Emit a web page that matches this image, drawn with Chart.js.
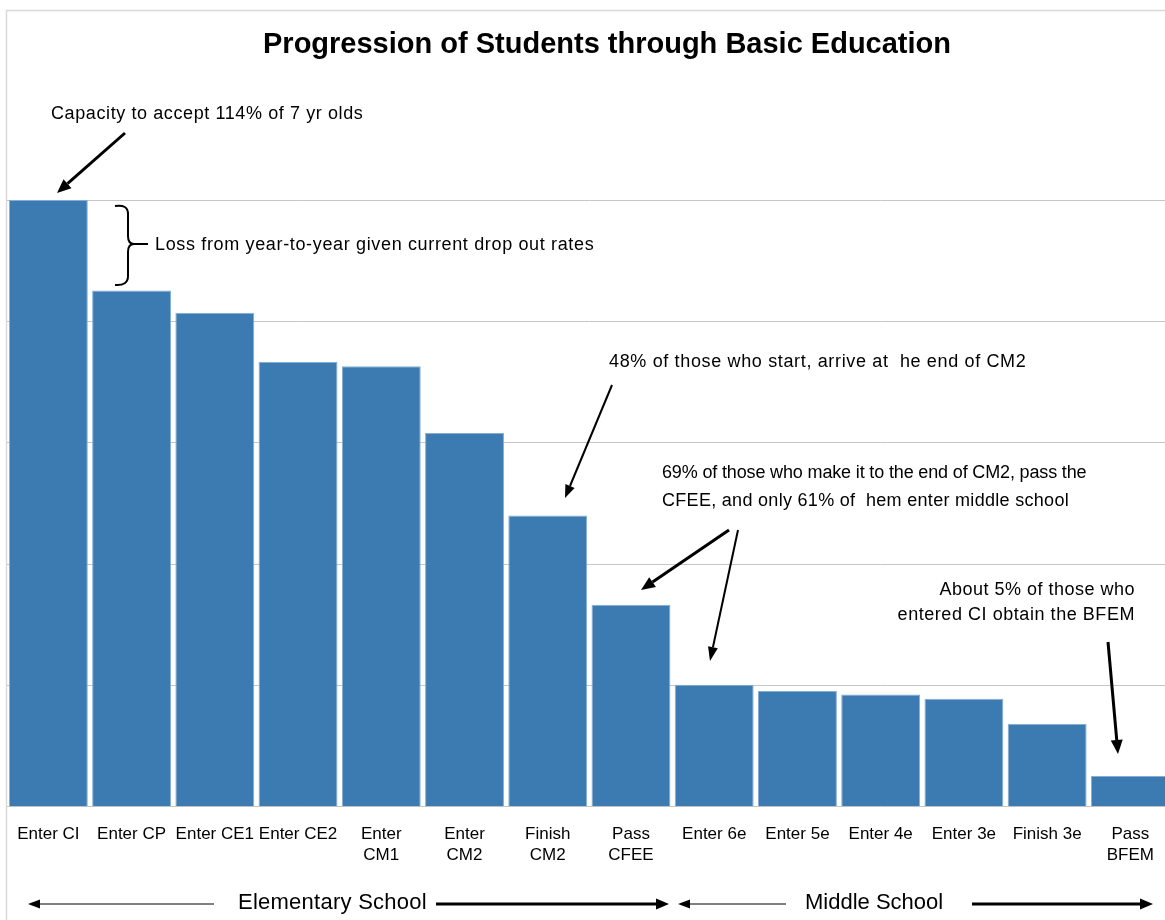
<!DOCTYPE html>
<html>
<head>
<meta charset="utf-8">
<script src="https://cdn.jsdelivr.net/npm/chart.js@4"></script>
<style>
  html, body { margin: 0; padding: 0; background: #fff; overflow: hidden; }
  #wrap { width: 1172px; height: 920px; }
</style>
</head>
<body>
<div id="wrap"><canvas id="chart" width="1172" height="920"></canvas></div>
<script>
// Share of students who started in CI, per step
const categories = [
  'Enter CI', 'Enter CP', 'Enter CE1', 'Enter CE2', ['Enter', 'CM1'], ['Enter', 'CM2'],
  ['Finish', 'CM2'], ['Pass', 'CFEE'], 'Enter 6e', 'Enter 5e', 'Enter 4e', 'Enter 3e',
  'Finish 3e', ['Pass', 'BFEM']
];
const values = [100, 85.1, 81.4, 73.3, 72.6, 61.6, 48.0, 33.3, 20.1, 19.1, 18.5, 17.8, 13.7, 5.1];
const yTicks = [0, 20, 40, 60, 80, 100];

const FONT = '"Liberation Sans", Arial, sans-serif';

function arrow(ctx, x1, y1, x2, y2, w, len, half) {
  const a = Math.atan2(y2 - y1, x2 - x1);
  const bx = x2 - len * Math.cos(a), by = y2 - len * Math.sin(a);
  ctx.save();
  ctx.strokeStyle = '#000';
  ctx.fillStyle = '#000';
  ctx.lineWidth = w;
  ctx.beginPath();
  ctx.moveTo(x1, y1);
  ctx.lineTo(bx, by);
  ctx.stroke();
  ctx.beginPath();
  ctx.moveTo(x2, y2);
  ctx.lineTo(bx + half * Math.sin(a), by - half * Math.cos(a));
  ctx.lineTo(bx - half * Math.sin(a), by + half * Math.cos(a));
  ctx.closePath();
  ctx.fill();
  ctx.restore();
}

function text(ctx, str, x, y, size, align, bold, spacing) {
  ctx.save();
  ctx.fillStyle = '#000';
  ctx.font = (bold ? 'bold ' : '') + size + 'px ' + FONT;
  ctx.textAlign = align || 'left';
  ctx.textBaseline = 'alphabetic';
  if (spacing) ctx.letterSpacing = spacing + 'px';
  ctx.fillText(str, x, y);
  ctx.restore();
}

const frame = {
  id: 'frame',
  beforeDraw(chart) {
    const ctx = chart.ctx;
    ctx.save();
    ctx.strokeStyle = '#d9d9d9';
    ctx.lineWidth = 1.5;
    ctx.beginPath();
    ctx.moveTo(6.5, 925);
    ctx.lineTo(6.5, 10.5);
    ctx.lineTo(1180, 10.5);
    ctx.stroke();
    ctx.restore();
  }
};

const notes = {
  id: 'notes',
  afterDraw(chart) {
    const ctx = chart.ctx;
    text(ctx, 'Progression of Students through Basic Education', 607, 53, 29, 'center', true);

    text(ctx, 'Capacity to accept 114% of 7 yr olds', 51, 119, 18, 'left', false, 0.6);
    arrow(ctx, 125, 133, 57, 193, 3, 14, 6);

    // brace
    ctx.save();
    ctx.strokeStyle = '#000';
    ctx.lineWidth = 2;
    ctx.beginPath();
    ctx.moveTo(115, 206);
    ctx.quadraticCurveTo(128, 204, 128, 214);
    ctx.lineTo(128, 236);
    ctx.quadraticCurveTo(128, 244, 134, 244);
    ctx.quadraticCurveTo(128, 244, 128, 252);
    ctx.lineTo(128, 276);
    ctx.quadraticCurveTo(128, 286, 115, 285);
    ctx.stroke();
    ctx.beginPath();
    ctx.moveTo(134, 244);
    ctx.lineTo(148, 244);
    ctx.stroke();
    ctx.restore();
    text(ctx, 'Loss from year-to-year given current drop out rates', 155, 250, 18, 'left', false, 0.65);

    text(ctx, '48% of those who start, arrive at  he end of CM2', 609, 367, 18, 'left', false, 0.65);
    arrow(ctx, 612, 385, 565, 498, 2, 13, 5);

    text(ctx, '69% of those who make it to the end of CM2, pass the', 662, 478, 18, 'left', false, -0.15);
    text(ctx, 'CFEE, and only 61% of  hem enter middle school', 662, 506, 18, 'left', false, 0.3);
    arrow(ctx, 729, 530, 641, 590, 3, 14, 6);
    arrow(ctx, 738, 530, 710, 661, 2, 14, 5);

    text(ctx, 'About 5% of those who', 1135, 595, 18, 'right', false, 0.5);
    text(ctx, 'entered CI obtain the BFEM', 1135, 620, 18, 'right', false, 0.55);
    arrow(ctx, 1108, 642, 1118, 754, 3, 14, 6);

    // school spans
    arrow(ctx, 214, 904, 28, 904, 1, 12, 4.5);
    text(ctx, 'Elementary School', 238, 909, 22, 'left', false, 0.25);
    arrow(ctx, 436, 904, 669, 904, 3, 13, 5.5);
    arrow(ctx, 786, 904, 678, 904, 1, 12, 4.5);
    text(ctx, 'Middle School', 805, 909, 22);
    arrow(ctx, 972, 904, 1153, 904, 3, 13, 5.5);
  }
};

new Chart(document.getElementById('chart'), {
  type: 'bar',
  data: {
    labels: categories,
    datasets: [{
      data: values,
      backgroundColor: '#3b7bb2',
      borderColor: '#86aed3',
      borderWidth: 1,
      categoryPercentage: 1,
      barPercentage: 0.948
    }]
  },
  options: {
    responsive: false,
    animation: false,
    events: [],
    layout: { padding: { left: 5, top: 200, right: 0, bottom: 37 } },
    plugins: {
      legend: { display: false },
      title: { display: false },
      tooltip: { enabled: false }
    },
    scales: {
      x: {
        grid: { display: false, drawTicks: false },
        border: { display: false },
        ticks: {
          color: '#000',
          font: { family: FONT, size: 17, lineHeight: 1.24 },
          padding: 17,
          autoSkip: false,
          maxRotation: 0,
          minRotation: 0
        }
      },
      y: {
        min: yTicks[0],
        max: yTicks[yTicks.length - 1],
        afterBuildTicks(scale) { scale.ticks = yTicks.map(v => ({ value: v })); },
        grid: { color: '#c6c6c6', lineWidth: 1, drawTicks: false },
        border: { display: false },
        ticks: { display: false }
      }
    }
  },
  plugins: [frame, notes]
});
</script>
</body>
</html>
